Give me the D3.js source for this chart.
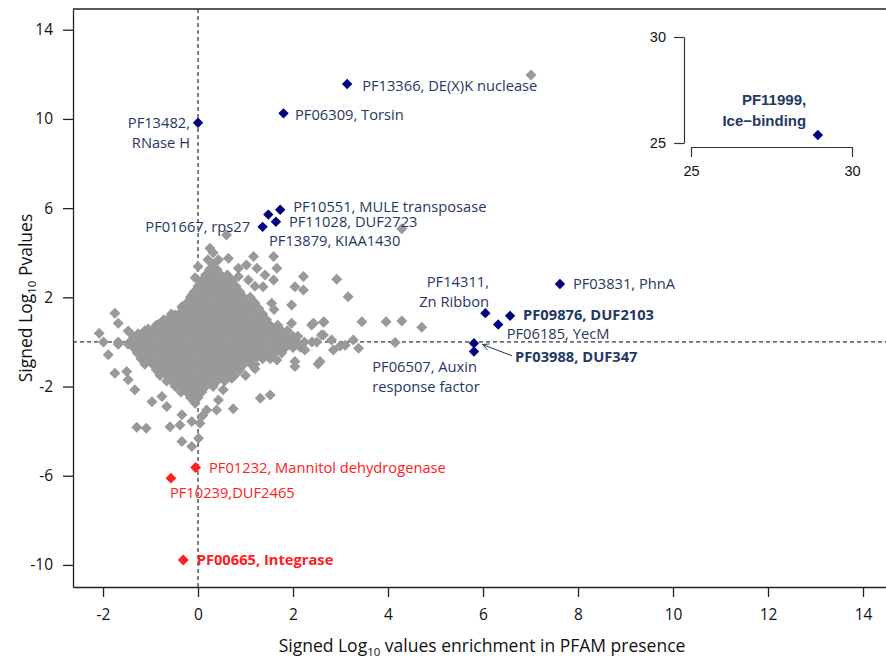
<!DOCTYPE html>
<html><head><meta charset="utf-8">
<script src="https://cdn.jsdelivr.net/npm/d3@7"></script>
<style>body{margin:0;background:#fff}svg{display:block}</style>
</head><body><svg id="c" width="886" height="659"></svg>
<script>
// ---------------- DATA ----------------
const xTicks = [-2, 0, 2, 4, 6, 8, 10, 12, 14];
const yTicks = [-10, -6, -2, 2, 6, 10, 14];
const insetTicks = [25, 30];

// Dense background cloud of PFAMs (rows: [y, [x values]])
const grayRows = [
  [3.5, [0.32]],
  [3.25, [0.24, 0.4]],
  [3.0, [0.16, 0.32, 0.48, 0.62]],
  [2.75, [0.08, 0.24, 0.4, 0.56, 0.72]],
  [2.5, [0, 0.16, 0.32, 0.48, 0.64, 0.8]],
  [2.25, [-0.08, 0.08, 0.24, 0.4, 0.56, 0.72, 0.88]],
  [2.0, [-0.16, 0, 0.16, 0.32, 0.48, 0.64, 0.8, 0.96, 1.1]],
  [1.75, [-0.24, -0.08, 0.08, 0.24, 0.4, 0.56, 0.72, 0.88, 1.04, 1.2]],
  [1.5, [-0.32, -0.16, 0, 0.16, 0.32, 0.48, 0.64, 0.8, 0.96, 1.12, 1.28]],
  [1.25, [-0.56, -0.4, -0.24, -0.08, 0.08, 0.24, 0.4, 0.56, 0.72, 0.88, 1.04, 1.2, 1.36]],
  [1.0, [-0.72, -0.64, -0.48, -0.32, -0.16, 0, 0.16, 0.32, 0.48, 0.64, 0.8, 0.96, 1.12, 1.28, 1.44]],
  [0.75, [-0.88, -0.72, -0.56, -0.4, -0.24, -0.08, 0.08, 0.24, 0.4, 0.56, 0.72, 0.88, 1.04, 1.2, 1.36, 1.52, 1.68]],
  [0.5, [-1.12, -0.96, -0.8, -0.64, -0.48, -0.32, -0.16, 0, 0.16, 0.32, 0.48, 0.64, 0.8, 0.96, 1.12, 1.28, 1.44, 1.6, 1.76, 1.88]],
  [0.25, [-1.36, -1.2, -1.04, -0.88, -0.72, -0.56, -0.4, -0.24, -0.08, 0.08, 0.24, 0.4, 0.56, 0.72, 0.88, 1.04, 1.2, 1.36, 1.52, 1.68, 1.84, 2.0, 2.1]],
  [0.0, [-1.44, -1.28, -1.12, -0.96, -0.8, -0.64, -0.48, -0.32, -0.16, 0, 0.16, 0.32, 0.48, 0.64, 0.8, 0.96, 1.12, 1.28, 1.44, 1.6, 1.76, 1.92, 2.08, 2.24, 2.4, 2.5]],
  [-0.25, [-1.36, -1.2, -1.04, -0.88, -0.72, -0.56, -0.4, -0.24, -0.08, 0.08, 0.24, 0.4, 0.56, 0.72, 0.88, 1.04, 1.2, 1.36, 1.52, 1.68, 1.84, 2.0, 2.16]],
  [-0.5, [-1.28, -1.12, -0.96, -0.8, -0.64, -0.48, -0.32, -0.16, 0, 0.16, 0.32, 0.48, 0.64, 0.8, 0.96, 1.12, 1.28, 1.44, 1.6, 1.76]],
  [-0.75, [-1.2, -1.04, -0.88, -0.72, -0.56, -0.4, -0.24, -0.08, 0.08, 0.24, 0.4, 0.56, 0.72, 0.88, 1.04, 1.2, 1.36, 1.52]],
  [-1.0, [-1.12, -0.96, -0.8, -0.64, -0.48, -0.32, -0.16, 0, 0.16, 0.32, 0.48, 0.64, 0.8, 0.96, 1.12, 1.2]],
  [-1.25, [-0.88, -0.72, -0.56, -0.4, -0.24, -0.08, 0.08, 0.24, 0.4, 0.56, 0.72, 0.88]],
  [-1.5, [-0.8, -0.64, -0.48, -0.32, -0.16, 0, 0.16, 0.32, 0.48, 0.64, 0.77]],
  [-1.75, [-0.66, -0.56, -0.4, -0.24, -0.08, 0.08, 0.24, 0.4, 0.56]],
  [-2.0, [-0.48, -0.32, -0.16, 0, 0.16, 0.32]],
  [-2.25, [-0.36, -0.24, -0.08, 0.08]],
  [-2.5, [-0.16, 0]],
  [-2.75, [-0.06]]
];

// Scattered background PFAMs [x, y]
const grayScatter = [
  [0.60,4.80],[0.25,4.20],[0.32,4.0],[0.21,3.68],[0.43,3.68],[0.64,3.75],[0.85,3.30],[1.02,3.45],
  [1.17,3.83],[1.24,3.30],[1.59,3.83],[1.66,3.30],[1.41,3.0],[1.59,2.78],[1.06,2.78],[0.85,2.93],
  [1.37,2.48],[1.2,2.5],[0.0,3.38],[-0.06,2.88],[2.22,2.93],[2.04,2.48],[2.22,2.33],[2.92,2.81],
  [3.16,2.03],[1.97,1.66],[1.55,1.73],[1.6,1.45],[1.97,0.84],[2.39,0.76],[2.64,0.88],[2.64,0.31],
  [2.43,0.84],[2.65,0.91],[3.45,0.91],[3.96,0.91],[4.29,0.94],[4.71,0.66],[4.15,-0.03],[2.6,0.31],
  [2.81,0.09],[2.99,-0.18],[3.1,-0.15],[3.27,0.09],[3.38,-0.28],[2.85,-0.36],[2.57,-0.88],
  [4.29,5.07],[7.01,11.97],
  [-1.75,1.29],[-1.68,0.84],[-1.47,0.49],[-1.26,0.37],[-2.08,0.39],[-1.99,0.0],[-1.68,0.0],
  [-1.05,0.58],[-0.83,0.79],[-0.48,1.21],[-0.13,2.1],[-0.34,1.58],
  [-1.68,-0.1],[-1.47,-0.1],[-1.89,-0.58],[-1.75,-1.40],[-1.50,-1.33],[-1.47,-1.70],[-1.33,-2.15],
  [-0.97,-2.68],[-0.76,-2.45],[-0.66,-2.90],[-0.34,-3.27],[-0.13,-3.57],[-0.59,-3.80],[-0.38,-3.72],
  [-1.29,-3.83],[-1.09,-3.87],[-0.34,-4.47],[-0.13,-4.69],[0.01,-4.32],[0.04,-3.65],[0.1,-3.3],
  [0.71,-1.63],[0.53,-2.15],[0.43,-2.60],[0.39,-3.05],[0.18,-3.05],[0.74,-3.0],[1.31,-2.53],
  [1.52,-2.38],[1.66,-0.81],[2.04,-0.88],[2.04,-1.1],[2.53,-0.99],[2.25,-0.36],[1.2,-1.2],[1.0,-1.5]
];

// Enriched PFAMs (navy)
const enrichedNames = ['PF13366','PF06309','PF13482','PF10551','PF13879','PF11028','PF01667',
  'PF03831','PF14311','PF09876','PF06185','PF03988','PF06507'];
const enrichedX = [3.14, 1.80, 0.0, 1.73, 1.48, 1.64, 1.36, 7.62, 6.05, 6.57, 6.32, 5.81, 5.81];
const enrichedY = [11.57, 10.25, 9.83, 5.93, 5.71, 5.39, 5.16, 2.60, 1.29, 1.17, 0.78, -0.06, -0.43];
const enrichedText = ['PF13366, DE(X)K nuclease','PF06309, Torsin','PF13482,\nRNase H',
  'PF10551, MULE transposase','PF13879, KIAA1430','PF11028, DUF2723','PF01667, rps27',
  'PF03831, PhnA','PF14311,\nZn Ribbon','PF09876, DUF2103','PF06185, YecM','PF03988, DUF347',
  'PF06507, Auxin\nresponse factor'];

// Depleted PFAMs (red)
const depletedNames = ['PF01232','PF10239','PF00665'];
const depletedX = [-0.05, -0.57, -0.31];
const depletedY = [-5.63, -6.11, -9.78];
const depletedText = ['PF01232, Mannitol dehydrogenase','PF10239,DUF2465','PF00665, Integrase'];

// Inset (off-scale) PFAM
const insetNames = ['PF11999'];
const insetX = [28.94];
const insetY = [25.38];
const insetText = ['PF11999,\nIce\u2212binding'];

// ---------------- LAYOUT / STYLE ----------------
const W = 886, H = 659;
const plot = {left: 73, right: 887, top: 9, bottom: 587};
const GRAY = '#999999', NAVY = '#000080', NAVYTXT = '#1f3864', RED = '#ff2020';
const FONT = '"Open Sans", sans-serif';
const LABEL_SIZE = 14.7;
const labelLayout = {
  PF13366: {dx: 15, dy: 2, anchor: 'start'},
  PF06309: {dx: 11.5, dy: 1, anchor: 'start'},
  PF13482: {dx: -8, dy: 0, anchor: 'end'},
  PF10551: {dx: 13, dy: -3, anchor: 'start'},
  PF13879: {dx: 0.7, dy: 26, anchor: 'start'},
  PF11028: {dx: 13, dy: 0.5, anchor: 'start'},
  PF01667: {dx: -12.5, dy: 0, anchor: 'end'},
  PF03831: {dx: 13, dy: 0, anchor: 'start'},
  PF14311: {dx: 3.6, dy: -31.5, anchor: 'end'},
  PF09876: {dx: 13, dy: -0.5, anchor: 'start', bold: true},
  PF06185: {dx: 8.5, dy: 9, anchor: 'start'},
  PF03988: {dx: 41, dy: 14, anchor: 'start', bold: true, arrow: {x1: 38, y1: 12.5, x2: 8.5, y2: 1.3}},
  PF06507: {dx: -101.7, dy: 15.7, anchor: 'start'},
  PF01232: {dx: 13.4, dy: 0.5, anchor: 'start'},
  PF10239: {dx: -1, dy: 15, anchor: 'start'},
  PF00665: {dx: 13.4, dy: 0, anchor: 'start', bold: true},
  PF11999: {dx: -11.7, dy: -35, anchor: 'end', bold: true}
};
const lineH = 20;

const svg = d3.select('#c');
svg.append('rect').attr('width', W).attr('height', H).attr('fill', '#fff');

const x = d3.scaleLinear().domain([-2.632, 14.505]).range([plot.left, plot.right]);
const y = d3.scaleLinear().domain([-10.99, 14.93]).range([plot.bottom, plot.top]);

const diamond = r => `M0,${-r}L${r},0L0,${r}L${-r},0Z`;

// reference lines
svg.append('line').attr('x1', x(0)).attr('x2', x(0)).attr('y1', plot.top).attr('y2', plot.bottom)
  .attr('stroke', '#000').attr('stroke-width', 1).attr('stroke-dasharray', '4,3');
svg.append('line').attr('x1', plot.left).attr('x2', plot.right).attr('y1', y(0)).attr('y2', y(0))
  .attr('stroke', '#000').attr('stroke-width', 1).attr('stroke-dasharray', '4,3');

// gray points
const grayPts = [];
grayRows.forEach(([yy, xs]) => xs.forEach(xx => grayPts.push([xx, yy])));
grayScatter.forEach(p => grayPts.push(p));
svg.append('g').selectAll('path').data(grayPts).join('path')
  .attr('d', diamond(5.5)).attr('fill', GRAY)
  .attr('transform', d => `translate(${x(d[0])},${y(d[1])})`);

function drawLabel(g, px, py, name, text, color) {
  const L = labelLayout[name];
  const lines = text.split('\n');
  const t = g.append('text')
    .attr('text-anchor', L.anchor)
    .attr('font-family', FONT).attr('font-size', LABEL_SIZE)
    .attr('font-weight', L.bold ? 'bold' : 'normal')
    .attr('fill', color);
  lines.forEach((ln, i) => {
    t.append('tspan').attr('x', px + L.dx).attr('y', py + L.dy + i * lineH)
      .attr('dy', '0.35em').text(ln);
  });
  if (L.arrow) {
    const a = L.arrow;
    const x1 = px + a.x1, y1 = py + a.y1, x2 = px + a.x2, y2 = py + a.y2;
    g.append('line').attr('x1', x1).attr('y1', y1).attr('x2', x2).attr('y2', y2)
      .attr('stroke', NAVYTXT).attr('stroke-width', 1);
    const ang = Math.atan2(y1 - y2, x1 - x2);
    const hl = 7, hw = 0.45;
    const p = d3.path();
    p.moveTo(x2 + hl * Math.cos(ang + hw), y2 + hl * Math.sin(ang + hw));
    p.lineTo(x2, y2);
    p.lineTo(x2 + hl * Math.cos(ang - hw), y2 + hl * Math.sin(ang - hw));
    g.append('path').attr('d', p.toString()).attr('fill', 'none').attr('stroke', NAVYTXT).attr('stroke-width', 1);
  }
}

// enriched
const gE = svg.append('g');
enrichedNames.forEach((n, i) => {
  const px = x(enrichedX[i]), py = y(enrichedY[i]);
  gE.append('path').attr('d', diamond(5.2)).attr('fill', NAVY).attr('transform', `translate(${px},${py})`);
});
enrichedNames.forEach((n, i) => drawLabel(gE, x(enrichedX[i]), y(enrichedY[i]), n, enrichedText[i], NAVYTXT));

// depleted
const gD = svg.append('g');
depletedNames.forEach((n, i) => {
  const px = x(depletedX[i]), py = y(depletedY[i]);
  gD.append('path').attr('d', diamond(5.4)).attr('fill', RED).attr('transform', `translate(${px},${py})`);
  drawLabel(gD, px, py, n, depletedText[i], RED);
});

// axes
const axisColor = '#222';
const fmt = d => d < 0 ? '-' + Math.abs(d) : String(d);
const yAxis = svg.append('g').attr('transform', `translate(${plot.left},0)`)
  .call(d3.axisLeft(y).tickValues(yTicks).tickSize(10).tickSizeOuter(0).tickPadding(10).tickFormat(fmt));
const xAxis = svg.append('g').attr('transform', `translate(0,${plot.bottom})`)
  .call(d3.axisBottom(x).tickValues(xTicks).tickSize(10).tickSizeOuter(0).tickPadding(12).tickFormat(fmt));
[yAxis, xAxis].forEach(a => {
  a.selectAll('path,line').attr('stroke', axisColor).attr('stroke-width', 1.3);
  a.selectAll('text').attr('font-family', FONT).attr('font-size', 15.5).attr('fill', '#111');
});
// top border
svg.append('line').attr('x1', plot.left).attr('x2', plot.right).attr('y1', plot.top).attr('y2', plot.top)
  .attr('stroke', axisColor).attr('stroke-width', 1.3);

// axis titles
const TITLE_SIZE = 17.5;
const xt = svg.append('text').attr('x', (plot.left + plot.right) / 2 + 2).attr('y', 652)
  .attr('text-anchor', 'middle').attr('font-family', FONT).attr('font-size', TITLE_SIZE).attr('fill', '#111');
xt.append('tspan').text('Signed Log');
xt.append('tspan').attr('font-size', 11.5).attr('dy', 4).text('10');
xt.append('tspan').attr('dy', -4).text(' values enrichment in PFAM presence');

const yt = svg.append('text').attr('transform', `translate(32,${(plot.top + plot.bottom) / 2}) rotate(-90)`)
  .attr('text-anchor', 'middle').attr('font-family', FONT).attr('font-size', TITLE_SIZE).attr('fill', '#111');
yt.append('tspan').text('Signed Log');
yt.append('tspan').attr('font-size', 11.5).attr('dy', 4).text('10');
yt.append('tspan').attr('dy', -4).text(' Pvalues');

// ---------------- INSET ----------------
const inset = {x0: 691, x1: 852, y0: 143, y1: 37, yAxisX: 684, xAxisY: 147};
const ix = d3.scaleLinear().domain([25, 30]).range([inset.x0, inset.x1]);
const iy = d3.scaleLinear().domain([25, 30]).range([inset.y0, inset.y1]);
const INFONT = '"Liberation Sans", Arial, sans-serif';
const iyAxis = svg.append('g').attr('transform', `translate(${inset.yAxisX},0)`)
  .call(d3.axisLeft(iy).tickValues(insetTicks).tickSize(10).tickSizeOuter(0).tickPadding(8).tickFormat(d3.format('d')));
const ixAxis = svg.append('g').attr('transform', `translate(0,${inset.xAxisY})`)
  .call(d3.axisBottom(ix).tickValues(insetTicks).tickSize(10).tickSizeOuter(0).tickPadding(9).tickFormat(d3.format('d')));
[iyAxis, ixAxis].forEach(a => {
  a.selectAll('path,line').attr('stroke', '#333').attr('stroke-width', 1.2);
  a.selectAll('text').attr('font-family', INFONT).attr('font-size', 14.5).attr('fill', '#111');
});
const gI = svg.append('g');
insetNames.forEach((n, i) => {
  const px = ix(insetX[i]), py = iy(insetY[i]);
  gI.append('path').attr('d', diamond(5.2)).attr('fill', NAVY).attr('transform', `translate(${px},${py})`);
  const L = labelLayout[n];
  const t = gI.append('text').attr('text-anchor', L.anchor).attr('font-family', INFONT)
    .attr('font-size', 15).attr('font-weight', 'bold').attr('fill', NAVYTXT);
  insetText[i].split('\n').forEach((ln, k) => {
    t.append('tspan').attr('x', px + L.dx).attr('y', py + L.dy + k * 20.7).attr('dy', '0.35em').text(ln);
  });
});
</script></body></html>
